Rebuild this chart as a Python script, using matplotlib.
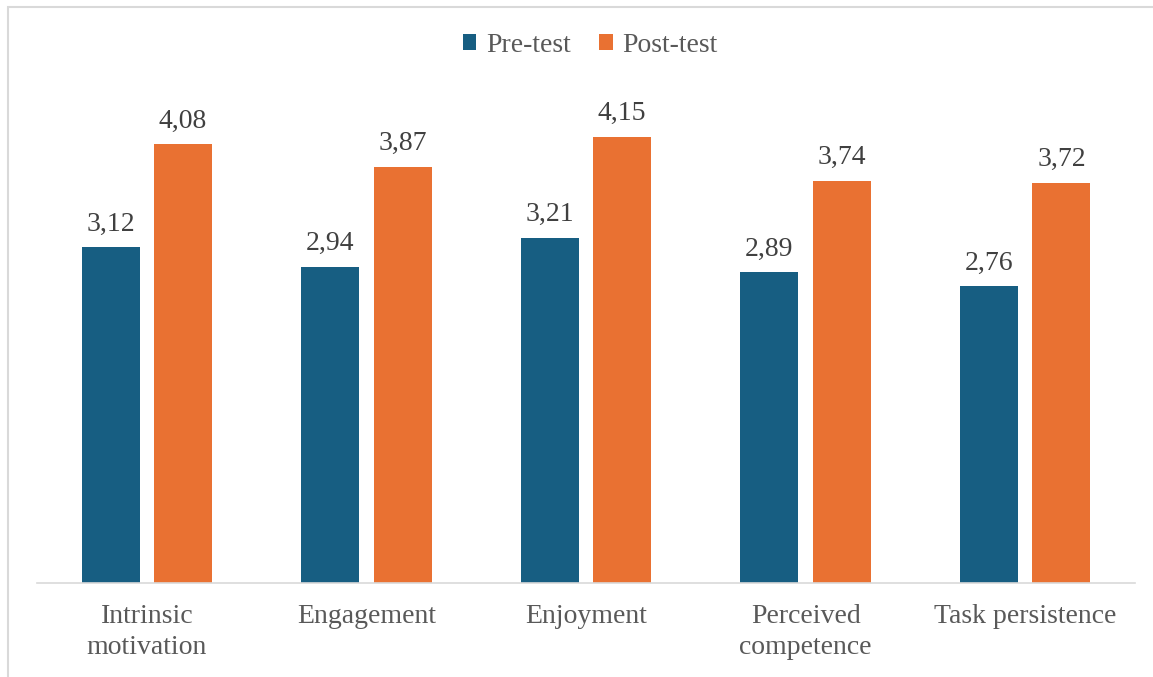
import matplotlib
matplotlib.use("Agg")
import matplotlib.pyplot as plt
from matplotlib.patches import Rectangle
import numpy as np

categories = ["Intrinsic\nmotivation", "Engagement", "Enjoyment", "Perceived\ncompetence", "Task persistence"]
pre_test = [3.12, 2.94, 3.21, 2.89, 2.76]
post_test = [4.08, 3.87, 4.15, 3.74, 3.72]
series_names = ["Pre-test", "Post-test"]

pre_color = "#175E82"
post_color = "#E97132"
text_color = "#595959"

plt.rcParams['font.family'] = ['Liberation Serif', 'DejaVu Serif']

fig = plt.figure(figsize=(11.53, 6.77), dpi=100)
ax = fig.add_axes([37/1153, 1-583/677, (1135-37)/1153, (583-99)/677])

x = np.arange(len(categories))
w = 0.264
off = 0.165
b1 = ax.bar(x - off, pre_test, w, color=pre_color, label=series_names[0])
b2 = ax.bar(x + off, post_test, w, color=post_color, label=series_names[1])

for bars, vals in ((b1, pre_test), (b2, post_test)):
    for r, v in zip(bars, vals):
        ax.annotate(f"{v:.2f}".replace(".", ","), (r.get_x() + r.get_width()/2, v),
                    xytext=(0, 12), textcoords="offset points",
                    ha="center", va="baseline", fontsize=20, color="#404040")

ax.set_xlim(-0.5, len(categories) - 0.5)
ax.set_ylim(0, 4.5)
ax.set_yticks([])
for s in ("top", "right", "left"):
    ax.spines[s].set_visible(False)
ax.spines["bottom"].set_color("#D9D9D9")
ax.spines["bottom"].set_linewidth(1.2)
ax.set_xticks(x)
ax.set_xticklabels(categories, fontsize=20, color=text_color, linespacing=1.3)
ax.tick_params(axis="x", length=0, pad=15)

leg = fig.legend(loc="center", bbox_to_anchor=(590/1153, 1-45/677), ncol=2, frameon=False,
                 fontsize=20, handlelength=0.5, handleheight=0.5, columnspacing=1.0,
                 handletextpad=0.35)
for t in leg.get_texts():
    t.set_color(text_color)

fig.patches.append(Rectangle((8/1153, -0.01), 1.02 - 8/1153, 1 - 7/677 + 0.01,
                             transform=fig.transFigure, fill=False,
                             edgecolor="#D9D9D9", linewidth=1.5))

fig.savefig("out.png", dpi=100)
